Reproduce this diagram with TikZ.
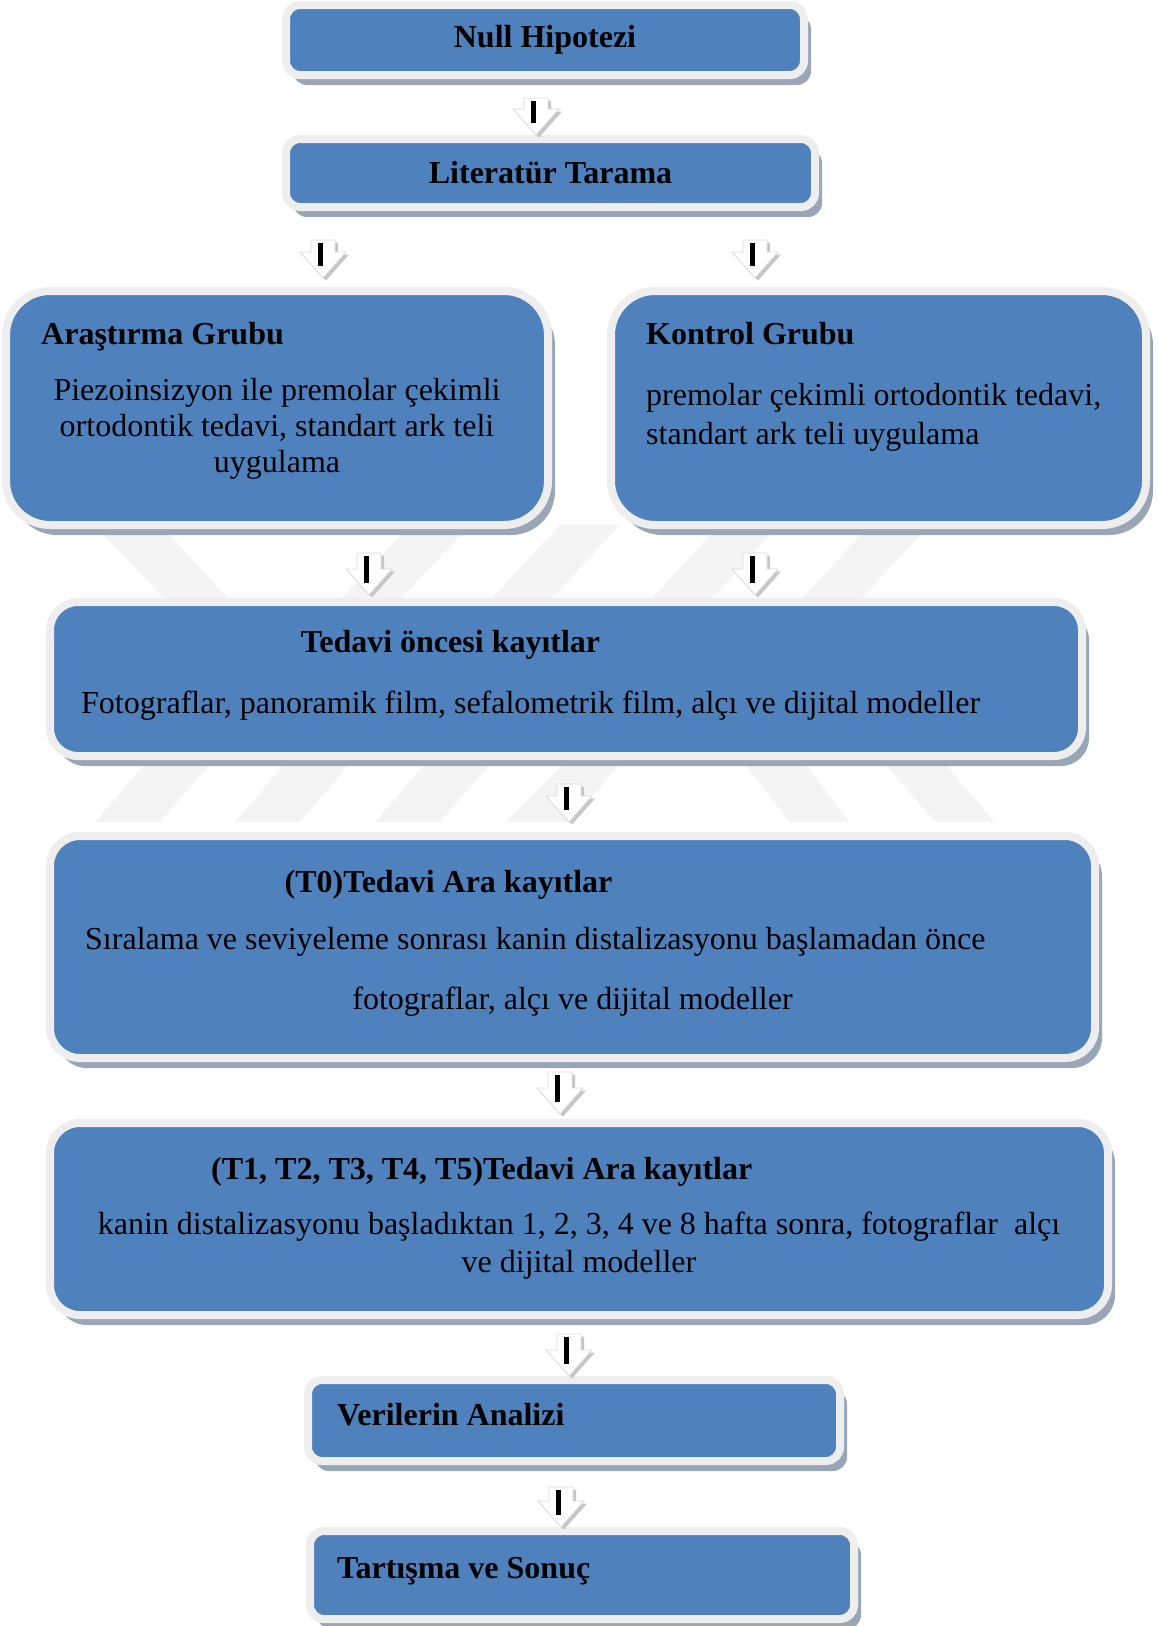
\documentclass[tikz,border=0pt]{standalone}
\usepackage{fontspec}
\setmainfont{Liberation Serif}
\usetikzlibrary{calc, shadows}

\definecolor{boxblue}{RGB}{79,129,189}
\definecolor{rimgrey}{RGB}{238,238,238}
\definecolor{shadowgrey}{RGB}{152,166,184}
\definecolor{wmgrey}{RGB}{244,244,244}

\begin{document}
\begin{tikzpicture}[
x=1pt, y=-1pt,
font=\fontsize{32}{36}\selectfont,
stagebox/.style={
rectangle, rounded corners=#1,
draw=rimgrey, line width=8pt,
fill=boxblue, inner sep=0pt,
drop shadow={shadow xshift=7pt, shadow yshift=-10pt, fill=shadowgrey, opacity=1}
},
stagebox/.default=14pt,
headtxt/.style={font=\fontsize{32}{36}\selectfont\bfseries, inner sep=0pt},
bodytxt/.style={inner sep=0pt},
blockarrow/.style={
draw=gray!30, fill=white, line width=0.8pt,
drop shadow={shadow xshift=3pt, shadow yshift=-2.5pt, fill=gray!45, opacity=1},
to path={
let \p1=(\tikztostart), \p2=(\tikztotarget) in
(\x1-12pt,\y1) -- (\x1+12pt,\y1) -- (\x1+12pt,\y2+26pt) -- (\x1+23pt,\y2+26pt)
-- (\x1,\y2) -- (\x1-23pt,\y2+26pt) -- (\x1-12pt,\y2+26pt) -- cycle
}
},
stem/.style={
line width=5pt,
to path={
let \p1=(\tikztostart), \p2=(\tikztotarget) in
(\x1-3pt,\y1-3pt) -- (\x1-3pt,\y2+12pt)
}
}
]

\useasboundingbox (0,0) rectangle (1158,1626);

% faint watermark behind the chart
\fill[wmgrey] (95,525) -- (160,525) -- (230,600) -- (165,600) -- cycle;
\fill[wmgrey] (410,525) -- (470,525) -- (400,600) -- (340,600) -- cycle;
\fill[wmgrey] (560,525) -- (620,525) -- (550,600) -- (490,600) -- cycle;
\fill[wmgrey] (720,525) -- (780,525) -- (710,600) -- (650,600) -- cycle;
\fill[wmgrey] (870,525) -- (930,525) -- (860,600) -- (800,600) -- cycle;
\fill[wmgrey] (150,758) -- (215,758) -- (160,822) -- (95,822) -- cycle;
\fill[wmgrey] (290,758) -- (355,758) -- (300,822) -- (235,822) -- cycle;
\fill[wmgrey] (430,758) -- (495,758) -- (440,822) -- (375,822) -- cycle;
\fill[wmgrey] (570,758) -- (625,758) -- (570,822) -- (505,822) -- cycle;
\fill[wmgrey] (740,758) -- (800,758) -- (850,822) -- (790,822) -- cycle;
\fill[wmgrey] (880,758) -- (940,758) -- (995,822) -- (935,822) -- cycle;

\node[stagebox, minimum width=518pt, minimum height=70pt] (null) at (545,40)
{\bfseries Null Hipotezi};

\node[stagebox, minimum width=529pt, minimum height=68pt] (lit) at (550.5,173)
{\bfseries Literatür Tarama};

\node[stagebox=44pt, minimum width=542pt, minimum height=234pt] (arast) at (277,408) {};
\node[headtxt, anchor=base west] (arastHead) at (41,344) {Araştırma Grubu};
\node[bodytxt, anchor=base, align=center] (arastBody) at (277,472.7)
{Piezoinsizyon ile premolar çekimli\\ortodontik tedavi, standart ark teli\\uygulama};

\node[stagebox=44pt, minimum width=535pt, minimum height=234pt] (kontrol) at (878.5,408) {};
\node[headtxt, anchor=base west] (kontrolHead) at (646,344) {Kontrol Grubu};
\node[bodytxt, anchor=base west, align=left, font=\fontsize{32}{38.5}\selectfont] (kontrolBody) at (646,444)
{premolar çekimli ortodontik tedavi,\\standart ark teli uygulama};

\node[stagebox=28pt, minimum width=1032pt, minimum height=154pt] (oncesi) at (566,679) {};
\node[headtxt, anchor=base west] (oncesiHead) at (300.7,652.7) {Tedavi öncesi kayıtlar};
\node[bodytxt, anchor=base west] (oncesiBody) at (81,713)
{Fotograflar, panoramik film, sefalometrik film, alçı ve dijital modeller};

\node[stagebox=30pt, minimum width=1045pt, minimum height=222pt] (tzero) at (572.5,947) {};
\node[headtxt, anchor=base west] (tzeroHead) at (284.5,892.7) {(T0)Tedavi Ara kayıtlar};
\node[bodytxt, anchor=base west] (tzeroBodyA) at (85,949)
{Sıralama ve seviyeleme sonrası kanin distalizasyonu başlamadan önce};
\node[bodytxt, anchor=base] (tzeroBodyB) at (572.5,1009)
{fotograflar, alçı ve dijital modeller};

\node[stagebox=30pt, minimum width=1058pt, minimum height=192pt] (tbes) at (579,1219) {};
\node[headtxt, anchor=base west] (tbesHead) at (211,1179) {(T1, T2, T3, T4, T5)Tedavi Ara kayıtlar};
\node[bodytxt, anchor=base, align=center, font=\fontsize{32}{38}\selectfont] (tbesBody) at (579,1272)
{kanin distalizasyonu başladıktan 1, 2, 3, 4 ve 8 hafta sonra, fotograflar\ \ alçı\\ve dijital modeller};

\node[stagebox, minimum width=532pt, minimum height=81pt] (analiz) at (574,1420.5) {};
\node[headtxt, anchor=base west] (analizHead) at (337,1425) {Verilerin Analizi};

\node[stagebox, minimum width=544pt, minimum height=88pt] (sonuc) at (582,1575) {};
\node[headtxt, anchor=base west] (sonucHead) at (337,1578) {Tartışma ve Sonuç};

\draw[blockarrow] ([xshift=-9pt,yshift=-19pt]null.south) to (lit.north);
\draw[stem] ([xshift=-9pt,yshift=-19pt]null.south) to (lit.north);

\draw[blockarrow] ([xshift=-227.5pt,yshift=-29pt]lit.south) to ([yshift=9pt]arast.north);
\draw[stem] ([xshift=-227.5pt,yshift=-29pt]lit.south) to ([yshift=9pt]arast.north);

\draw[blockarrow] ([xshift=204.5pt,yshift=-29pt]lit.south) to ([yshift=9pt]kontrol.north);
\draw[stem] ([xshift=204.5pt,yshift=-29pt]lit.south) to ([yshift=9pt]kontrol.north);

\draw[blockarrow] ([xshift=92pt,yshift=-24pt]arast.south) to ([yshift=3pt]oncesi.north);
\draw[stem] ([xshift=92pt,yshift=-24pt]arast.south) to ([yshift=3pt]oncesi.north);

\draw[blockarrow] ([xshift=-123.5pt,yshift=-24pt]kontrol.south) to ([yshift=3pt]oncesi.north);
\draw[stem] ([xshift=-123.5pt,yshift=-24pt]kontrol.south) to ([yshift=3pt]oncesi.north);

\draw[blockarrow] ([xshift=3pt,yshift=-24pt]oncesi.south) to ([yshift=10pt]tzero.north);
\draw[stem] ([xshift=3pt,yshift=-24pt]oncesi.south) to ([yshift=10pt]tzero.north);

\draw[blockarrow] ([xshift=-12.5pt,yshift=-10pt]tzero.south) to ([yshift=5pt]tbes.north);
\draw[stem] ([xshift=-12.5pt,yshift=-10pt]tzero.south) to ([yshift=5pt]tbes.north);

\draw[blockarrow] ([xshift=-10pt,yshift=-15pt]tbes.south) to (analiz.north);
\draw[stem] ([xshift=-10pt,yshift=-15pt]tbes.south) to (analiz.north);

\draw[blockarrow] ([xshift=-13pt,yshift=-22pt]analiz.south) to (sonuc.north);
\draw[stem] ([xshift=-13pt,yshift=-22pt]analiz.south) to (sonuc.north);

\end{tikzpicture}
\end{document}
